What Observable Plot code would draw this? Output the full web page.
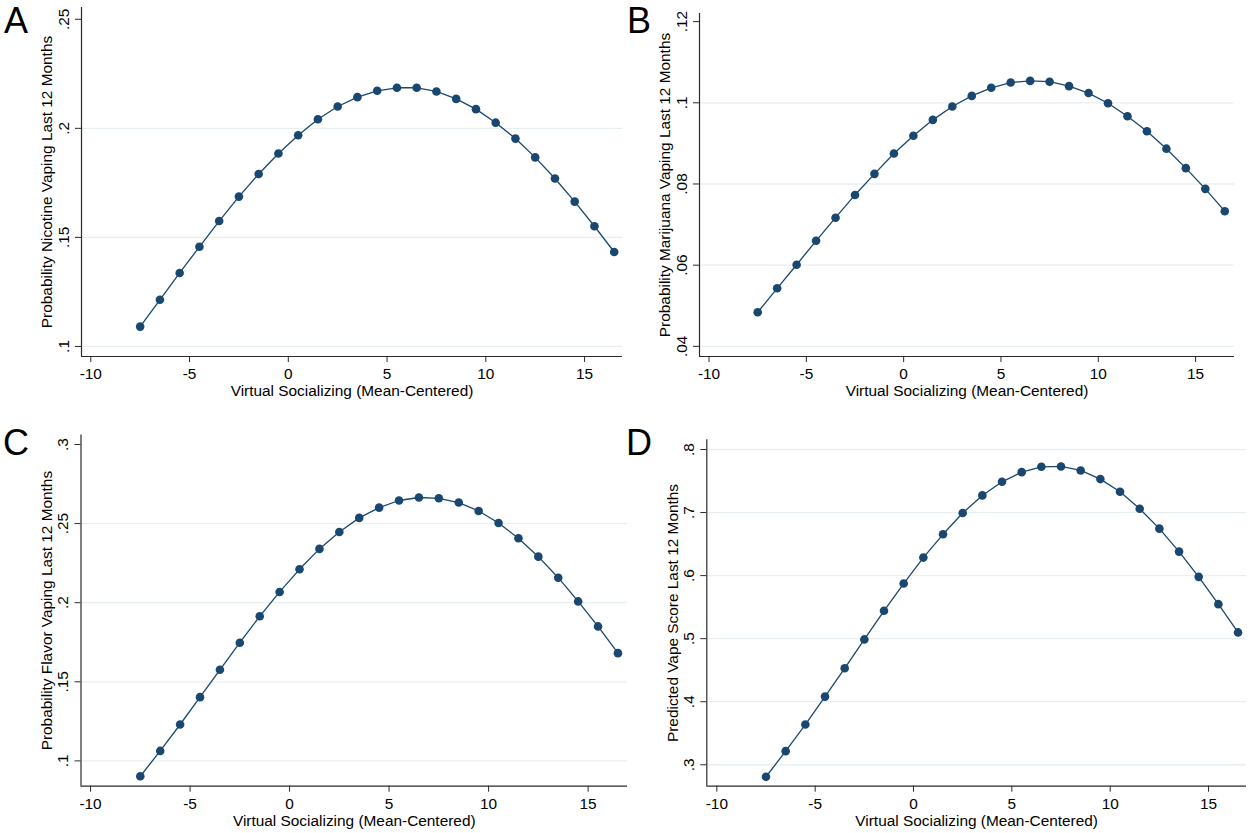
<!DOCTYPE html>
<html>
<head>
<meta charset="utf-8">
<script src="https://cdn.jsdelivr.net/npm/d3@7"></script>
<script src="https://cdn.jsdelivr.net/npm/@observablehq/plot@0.6"></script>
<style>
  html, body { margin: 0; padding: 0; background: #ffffff; }
  #root { position: relative; width: 1252px; height: 833px; background: #ffffff; overflow: hidden; font-family: "Liberation Sans", Arial, sans-serif; }
  .panel { position: absolute; }
  .letter { position: absolute; font-size: 36px; line-height: 36px; color: #000; font-family: "Liberation Sans", Arial, sans-serif; }
</style>
</head>
<body>
<div id="root"></div>
<script>
// ---- data ----
const socializing = [-7.5, -6.5, -5.5, -4.5, -3.5, -2.5, -1.5, -0.5, 0.5, 1.5, 2.5, 3.5, 4.5,
  5.5, 6.5, 7.5, 8.5, 9.5, 10.5, 11.5, 12.5, 13.5, 14.5, 15.5, 16.5];

const nicotine = [0.1091, 0.1214, 0.1337, 0.1457, 0.1575, 0.1687, 0.1791, 0.1885, 0.1968, 0.2042,
  0.2100, 0.2143, 0.2172, 0.2186, 0.2186, 0.2169, 0.2135, 0.2088, 0.2026, 0.1953, 0.1867,
  0.1770, 0.1664, 0.1551, 0.1433];

const marijuana = [0.0484, 0.0543, 0.0601, 0.0660, 0.0717, 0.0773, 0.0825, 0.0875, 0.0919, 0.0958,
  0.0991, 0.1017, 0.1037, 0.1050, 0.1054, 0.1052, 0.1041, 0.1024, 0.0999, 0.0967, 0.0930,
  0.0887, 0.0839, 0.0788, 0.0733];

const flavor = [0.0903, 0.1063, 0.1230, 0.1403, 0.1576, 0.1747, 0.1914, 0.2068, 0.2211, 0.2340,
  0.2447, 0.2536, 0.2601, 0.2646, 0.2665, 0.2660, 0.2633, 0.2580, 0.2504, 0.2407, 0.2291,
  0.2158, 0.2008, 0.1850, 0.1681];

const vapeScore = [0.2810, 0.3216, 0.3638, 0.4081, 0.4530, 0.4988, 0.5442, 0.5874, 0.6286, 0.6655,
  0.6993, 0.7272, 0.7488, 0.7641, 0.7726, 0.7731, 0.7668, 0.7531, 0.7330, 0.7061, 0.6745,
  0.6381, 0.5980, 0.5547, 0.5099];

const xTicks = [-10, -5, 0, 5, 10, 15];
const xTitle = "Virtual Socializing (Mean-Centered)";

const ticksA = [0.1, 0.15, 0.2, 0.25];
const gridA = [0.1, 0.15, 0.2];
const ticksB = [0.04, 0.06, 0.08, 0.1, 0.12];
const gridB = [0.04, 0.06, 0.08, 0.1];
const ticksC = [0.1, 0.15, 0.2, 0.25, 0.3];
const gridC = [0.1, 0.15, 0.2, 0.25];
const ticksD = [0.3, 0.4, 0.5, 0.6, 0.7, 0.8];
const gridD = [0.3, 0.4, 0.5, 0.6, 0.7, 0.8];

const titleA = "Probability Nicotine Vaping Last 12 Months";
const titleB = "Probability Marijuana Vaping Last 12 Months";
const titleC = "Probability Flavor Vaping Last 12 Months";
const titleD = "Predicted Vape Score Last 12 Months";

// ---- styling / layout ----
const NAVY = "#1a476f";
const AXIS = "#2b2b2b";
const GRID = "#e8eff2";
const FONT = "'Liberation Sans', Arial, sans-serif";
const FS = 15.4;

const fmt = d => String(+d.toFixed(2)).replace(/^0\./, ".");

const panels = [
  {letter: "A", values: nicotine, ticks: ticksA, grid: gridA, title: titleA,
   left: 0, top: 0, width: 626, height: 416,
   m: {l: 81, r: 4, t: 7, b: 60}, xd: [-10.47, 16.92], yd: [0.0954, 0.2554],
   lx: 4, ly: 2.5},
  {letter: "B", values: marijuana, ticks: ticksB, grid: gridB, title: titleB,
   left: 626, top: 0, width: 626, height: 416,
   m: {l: 73, r: 18, t: 13, b: 60}, xd: [-10.49, 17.0], yd: [0.0375, 0.122],
   lx: 627, ly: 2.5},
  {letter: "C", values: flavor, ticks: ticksC, grid: gridC, title: titleC,
   left: 0, top: 416, width: 627, height: 417,
   m: {l: 80.5, r: 0, t: 18.5, b: 47.3}, xd: [-10.48, 16.98], yd: [0.084, 0.306],
   lx: 3, ly: 424.5},
  {letter: "D", values: vapeScore, ticks: ticksD, grid: gridD, title: titleD,
   left: 626, top: 416, width: 626, height: 417,
   m: {l: 80.3, r: 6, t: 23.3, b: 47.3}, xd: [-10.51, 16.93], yd: [0.266, 0.8154],
   lx: 626, ly: 424.5}
];

const root = document.getElementById("root");

for (const p of panels) {
  const data = socializing.map((x, i) => ({x, y: p.values[i]}));
  const chart = Plot.plot({
    width: p.width,
    height: p.height,
    marginLeft: p.m.l,
    marginRight: p.m.r,
    marginTop: p.m.t,
    marginBottom: p.m.b,
    style: {background: "transparent", color: "#000", fontFamily: FONT, fontSize: FS + "px", overflow: "visible"},
    x: {domain: p.xd},
    y: {domain: p.yd},
    marks: [
      Plot.gridY(p.grid, {stroke: GRID, strokeOpacity: 1, strokeWidth: 1.3}),
      Plot.axisX(xTicks, {tickSize: 6, tickPadding: 6, fontSize: FS, stroke: AXIS, label: null, tickFormat: d => String(d)}),
      Plot.axisY(p.ticks, {tickSize: 6, tickPadding: 7, tickRotate: -90, fontSize: FS, stroke: AXIS, label: null, tickFormat: fmt}),
      Plot.ruleX([p.xd[0]], {stroke: AXIS, strokeWidth: 1.2}),
      Plot.ruleY([p.yd[0]], {stroke: AXIS, strokeWidth: 1.2}),
      Plot.line(data, {x: "x", y: "y", stroke: NAVY, strokeWidth: 1.3}),
      Plot.dot(data, {x: "x", y: "y", r: 4.3, fill: NAVY, stroke: "none"}),
      Plot.text([p.title], {frameAnchor: "left", rotate: -90, dx: -34, textAnchor: "middle", lineAnchor: "middle", fontSize: FS, fill: "#000", text: d => d}),
      Plot.text([xTitle], {frameAnchor: "bottom", dy: 35, textAnchor: "middle", lineAnchor: "middle", fontSize: FS, fill: "#000", text: d => d})
    ]
  });
  const div = document.createElement("div");
  div.className = "panel";
  div.style.left = p.left + "px";
  div.style.top = p.top + "px";
  div.style.width = p.width + "px";
  div.style.height = p.height + "px";
  div.appendChild(chart);
  root.appendChild(div);

  const lab = document.createElement("div");
  lab.className = "letter";
  lab.style.left = p.lx + "px";
  lab.style.top = p.ly + "px";
  lab.textContent = p.letter;
  root.appendChild(lab);
}
</script>
</body>
</html>
